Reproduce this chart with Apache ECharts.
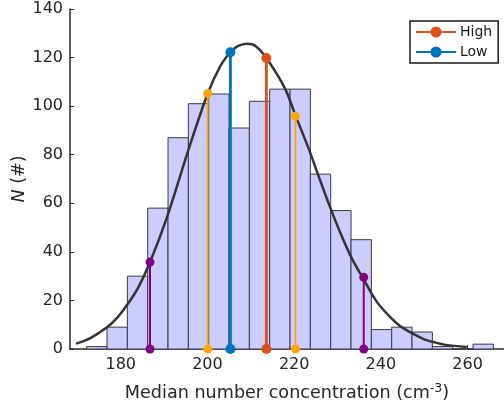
<!DOCTYPE html>
<html><head><meta charset="utf-8">
<script src="https://cdn.jsdelivr.net/npm/echarts@6/dist/echarts.min.js"></script>
<style>html,body{margin:0;padding:0;background:#fff}#c{width:504px;height:408px}</style>
</head><body><div id="c"></div>
<script>
// Histogram bin edges and counts
const binEdges = [172.15, 176.84, 181.53, 186.22, 190.91, 195.60, 200.29, 204.98, 209.67, 214.36, 219.05, 223.74, 228.43, 233.12, 237.81, 242.50, 247.19, 251.88, 256.57, 261.26, 265.95];
const counts = [1, 9, 30, 58, 87, 101, 105, 91, 102, 107, 107, 72, 57, 45, 8, 9, 7, 1, 0, 2];
// Fitted curve
const curveX = [169.7, 173, 176.6, 179, 181.4, 184, 186.75, 190.7, 195.8, 200.06, 203, 205.3, 207, 209.1, 211, 213.6, 217.9, 220.3, 223.5, 226, 228.4, 230.5, 233.3, 236.05, 239, 242.1, 244.5, 247.5, 250, 252.1, 255, 259.8];
const curveY = [2.2, 4.5, 8.6, 12.5, 18.0, 25.2, 35.7, 54.4, 83.0, 105.2, 116.6, 122.2, 124.7, 125.7, 124.9, 119.8, 107.2, 96.2, 81.8, 69.4, 57.9, 48.5, 37.3, 28.6, 19.6, 13.2, 9.4, 6.2, 4.0, 2.9, 1.7, 0.8];
// Marker stems
const purpleX = [186.75, 236.05], purpleY = [35.8, 29.5];
const yellowX = [200.06, 220.3], yellowY = [105.2, 95.8];
const lowX = 205.3, lowY = 122.2;
const highX = 213.6, highY = 119.8;
const xTicks = [180, 200, 220, 240, 260];

const FONT = 'DejaVu Sans';
const TXT = '#262626';

function stem(name, x, y, color, width, size, z) {
  return {
    type: 'line', name: name, z: z,
    data: [[x, 0], [x, y]],
    symbol: 'circle', symbolSize: size,
    lineStyle: {color: color, width: width},
    itemStyle: {color: color},
    emphasis: {disabled: true}, silent: true
  };
}

const series = [
  {
    type: 'custom', name: 'hist', z: 1, silent: true,
    data: counts.map((c, i) => [binEdges[i], binEdges[i + 1], c]),
    renderItem: function (params, api) {
      const p0 = api.coord([api.value(0), 0]);
      const p1 = api.coord([api.value(1), api.value(2)]);
      return {
        type: 'rect',
        shape: {x: p0[0], y: p1[1], width: p1[0] - p0[0], height: p0[1] - p1[1]},
        style: {fill: '#CCCCFF', stroke: '#3a3a48', lineWidth: 1}
      };
    }
  },
  {
    type: 'line', name: 'fit', z: 3, silent: true,
    data: curveX.map((x, i) => [x, curveY[i]]),
    smooth: 0.3, symbol: 'none',
    lineStyle: {color: '#333333', width: 2.5}
  }
];
purpleX.forEach((x, i) => series.push(stem('p' + i, x, purpleY[i], '#800080', 2, 9, 4)));
yellowX.forEach((x, i) => series.push(stem('y' + i, x, yellowY[i], '#FFA500', 1.8, 9, 4)));
series.push(stem('Low', lowX, lowY, '#0072BD', 2.8, 10, 5));
series.push(stem('High', highX, highY, '#D95319', 2.8, 10, 5));

const chart = echarts.init(document.getElementById('c'), null, {renderer: 'canvas'});
chart.setOption({
  animation: false,
  backgroundColor: '#fff',
  textStyle: {fontFamily: FONT},
  grid: {left: 70, top: 9, right: 0, bottom: 59, containLabel: false, outerBoundsMode: 'none'},
  legend: {
    data: ['High', 'Low'], orient: 'vertical', left: 410, top: 21,
    backgroundColor: '#fff', borderColor: '#1a1a1a', borderWidth: 1.5,
    padding: [4, 6, 4, 5], itemGap: 6, itemWidth: 40, itemHeight: 14,
    textStyle: {fontFamily: FONT, fontSize: 14, color: '#1a1a1a', padding: [0, 0, 0, -1]}
  },
  xAxis: {
    type: 'value', min: 168.3, max: 268.4,
    splitLine: {show: false},
    axisLine: {show: true, lineStyle: {color: TXT, width: 1.5}},
    axisTick: {show: true, inside: true, length: 4, customValues: xTicks, lineStyle: {color: TXT}},
    axisLabel: {customValues: xTicks, fontFamily: FONT, fontSize: 16, color: TXT, margin: 8},
    name: 'Median number concentration (cm{sup|-3})',
    nameLocation: 'middle', nameGap: 33, nameMoveOverlap: false,
    nameTextStyle: {fontFamily: FONT, fontSize: 17.6, color: TXT,
      rich: {sup: {fontFamily: FONT, fontSize: 12.5, color: TXT, verticalAlign: 'top', padding: [0, 0, 9, 0]}}}
  },
  yAxis: {
    type: 'value', min: 0, max: 140, interval: 20,
    splitLine: {show: false},
    axisLine: {show: true, lineStyle: {color: TXT, width: 1.5}},
    axisTick: {show: true, inside: true, length: 4, lineStyle: {color: TXT}},
    axisLabel: {fontFamily: FONT, fontSize: 16, color: TXT, margin: 7},
    name: '{i|N} (#)', nameLocation: 'middle', nameGap: 42, nameRotate: 90, nameMoveOverlap: false,
    nameTextStyle: {fontFamily: FONT, fontSize: 17.6, color: TXT,
      rich: {i: {fontFamily: FONT, fontSize: 17.6, fontStyle: 'italic', color: TXT}}}
  },
  series: series
});
</script></body></html>
